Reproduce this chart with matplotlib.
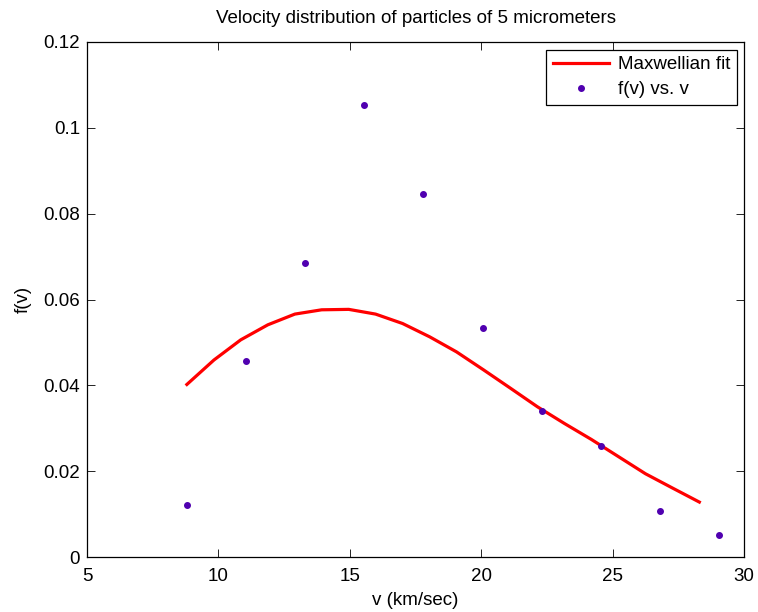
import matplotlib
matplotlib.use("Agg")
import matplotlib.pyplot as plt

# measured f(v) samples
v_data = [8.8, 11.05, 13.3, 15.55, 17.8, 20.05, 22.3, 24.55, 26.8, 29.05]
f_data = [0.0121, 0.0457, 0.0685, 0.1053, 0.0846, 0.0533, 0.0340, 0.0259, 0.0107, 0.0051]

# Maxwellian fit curve
v_fit = [8.80, 9.83, 10.85, 11.88, 12.91, 13.93, 14.96, 15.98, 17.01, 18.04,
         19.06, 20.09, 21.12, 22.14, 23.17, 24.19, 25.22, 26.25, 27.27, 28.30]
f_fit = [0.0402, 0.0459, 0.0506, 0.0541, 0.0566, 0.0576, 0.0577, 0.0566, 0.0544, 0.0513,
         0.0478, 0.0436, 0.0393, 0.0350, 0.0311, 0.0274, 0.0234, 0.0194, 0.0161, 0.0128]

x_ticks = [5, 10, 15, 20, 25, 30]
y_ticks = [0, 0.02, 0.04, 0.06, 0.08, 0.1, 0.12]
y_tick_labels = ["0", "0.02", "0.04", "0.06", "0.08", "0.1", "0.12"]

plt.rcParams["font.family"] = ["Liberation Sans", "DejaVu Sans"]
FS = 13.5

fig = plt.figure(figsize=(7.58, 6.12), dpi=100)
ax = fig.add_axes([87 / 758, 55 / 612, 657 / 758, 515 / 612])

ax.plot(v_fit, f_fit, color="red", lw=2.3, label="Maxwellian fit")
ax.plot(v_data, f_data, ls="none", marker="o", ms=4, color="#5000b0",
        label="f(v) vs. v")

ax.set_xlim(5, 30)
ax.set_ylim(0, 0.12)
ax.set_xticks(x_ticks)
ax.set_yticks(y_ticks)
ax.set_yticklabels(y_tick_labels)
ax.tick_params(direction="in", top=True, right=True, length=5.5, width=0.6,
               labelsize=FS)
ax.tick_params(axis="x", pad=8)
ax.tick_params(axis="y", pad=5)
for s in ax.spines.values():
    s.set_linewidth(0.9)

ax.set_title("Velocity distribution of particles of 5 micrometers",
             fontsize=FS, pad=14)
ax.set_xlabel("v (km/sec)", fontsize=FS, labelpad=5)
ax.set_ylabel("f(v)", fontsize=FS, labelpad=8)

leg = ax.legend(loc="upper right", fontsize=FS, fancybox=False, framealpha=1,
                edgecolor="black", borderaxespad=0.4, handlelength=3.0,
                borderpad=0.35, labelspacing=0.42, handletextpad=0.45)
leg.get_frame().set_linewidth(0.9)

fig.savefig("out.png", dpi=100)
